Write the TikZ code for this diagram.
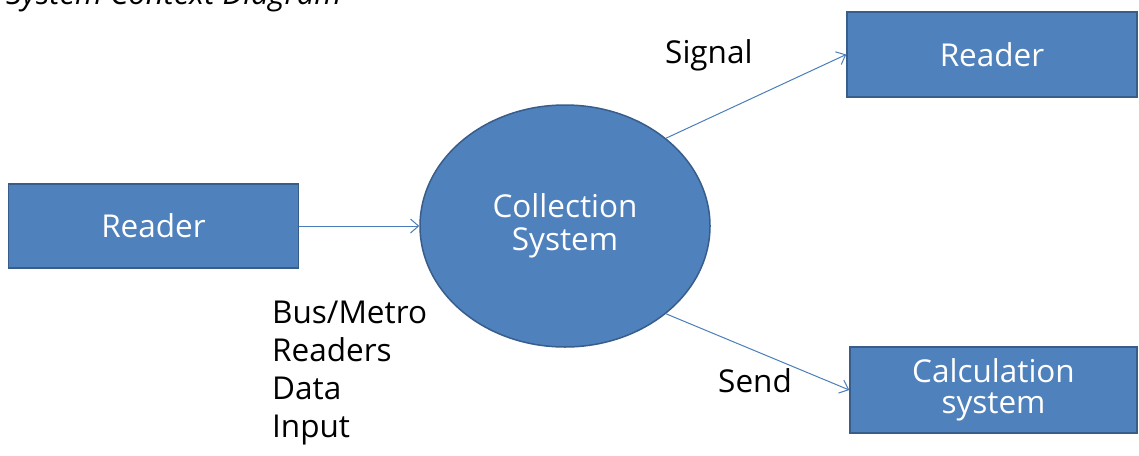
\documentclass[tikz,border=0pt]{standalone}
\usepackage{fontspec}
\setmainfont{Open Sans}
\usepackage{tikz}
\usetikzlibrary{shapes.geometric, arrows.meta, positioning}
\definecolor{boxblue}{RGB}{79, 129, 189}
\definecolor{edgeblue}{RGB}{56, 93, 138}
\definecolor{lineblue}{RGB}{74, 126, 187}

\begin{document}
\begin{tikzpicture}[x=1pt, y=-1pt,
        block/.style={rectangle, draw=edgeblue, line width=1.5pt, fill=boxblue, text=white, align=center, minimum width=290pt, minimum height=84pt, inner sep=0pt, font=\fontsize{31.5}{31}\selectfont},
        process/.style={ellipse, draw=edgeblue, line width=1.5pt, fill=boxblue, text=white, align=center, minimum width=290pt, minimum height=242pt, inner sep=0pt, font=\fontsize{31.5}{33}\selectfont},
        note/.style={align=left, inner sep=0pt, font=\fontsize{31.5}{38}\selectfont},
        arrow/.style={-{Straight Barb[length=8pt, width=14pt]}, lineblue, line width=1pt}
    ]
        \clip (0,0) rectangle (1139,455);

        % Title (cut off at the top)
        \node[note, anchor=base west, font=\fontsize{31}{34}\selectfont\itshape] (title) at (6,5) {System Context Diagram};

        % Main process
        \node[process] (sys) at (565,226) {Collection\\System};

        % External entities
        \node[block, left=120pt of sys] (source) {Reader};
        \node[block, minimum height=85pt] (target) at (992,54.5) {Reader};
        \node[block, minimum width=287pt, minimum height=86pt] (calc) at (993.5,390) {Calculation\\system};

        % Flows
        \draw[arrow] (source) -- (sys);
        \draw[arrow] (sys.41) -- (target.west);
        \draw[arrow] (sys.-41) -- (calc.west);

        % Flow labels
        \node[note, anchor=base west] (signal) at (665,63) {Signal};
        \node[note, anchor=base west] (send) at (718,392) {Send};
        \node[note, anchor=base west] (input) at (272,437) {Bus/Metro\\Readers\\Data\\Input};

    \end{tikzpicture}
\end{document}
